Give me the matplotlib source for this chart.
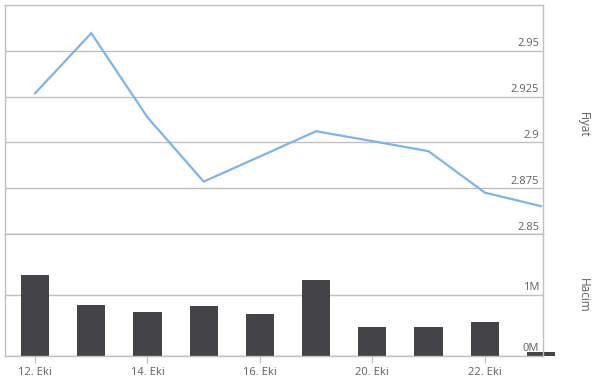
import matplotlib.pyplot as plt
import matplotlib.transforms as mtransforms

plt.rcParams['font.family'] = ['Open Sans', 'DejaVu Sans']

# data
dates = ["12. Eki", "13. Eki", "14. Eki", "15. Eki", "16. Eki",
         "19. Eki", "20. Eki", "21. Eki", "22. Eki", "23. Eki"]
price = [2.9268, 2.9596, 2.9137, 2.8786, 2.8923, 2.9061, 2.9007, 2.8952, 2.8726, 2.8652]
volume = [1.33, 0.836, 0.72, 0.815, 0.69, 1.245, 0.47, 0.47, 0.557, 0.07]  # millions
price_ticks = [2.85, 2.875, 2.9, 2.925, 2.95]
price_tick_labels = ["2.85", "2.875", "2.9", "2.925", "2.95"]
vol_ticks = [0, 1]
vol_tick_labels = ["0M", "1M"]
xtick_idx = [0, 2, 4, 6, 8]

grid_c = "#c0c0c0"
text_c = "#606060"

fig = plt.figure(figsize=(6, 3.84), dpi=100)
ax1 = fig.add_axes([5 / 600, 1 - 234 / 384, 538 / 600, 229 / 384])
ax2 = fig.add_axes([5 / 600, 1 - 356 / 384, 538 / 600, 122 / 384])

x = list(range(len(dates)))
xlim = (-0.534, 9.036)

# price pane
ax1.plot(x, price, color="#7cb5ec", lw=1.6, solid_joinstyle="miter")
ax1.set_xlim(*xlim)
ax1.set_ylim(2.85, 2.975)
for v in price_ticks:
    ax1.axhline(v, color=grid_c, lw=1, zorder=0)
tr1 = mtransforms.blended_transform_factory(ax1.transAxes, ax1.transData)
for v, lab in zip(price_ticks, price_tick_labels):
    ax1.text(0.993, v + 0.0008, lab, transform=tr1, ha="right", va="bottom",
             fontsize=8, color=text_c)
ax1.set_xticks([])
ax1.set_yticks([])
for s in ax1.spines.values():
    s.set_color(grid_c)
    s.set_linewidth(1)
fig.text(583 / 600, 1 - 125 / 384, "Fiyat", rotation=270, ha="center", va="center",
         fontsize=8.5, color=text_c)

# volume pane
ax2.bar(x, volume, width=0.5, color="#434348", zorder=2, clip_on=False)
ax2.set_xlim(*xlim)
ax2.set_ylim(0, 2.0)
for v in vol_ticks:
    ax2.axhline(v, color=grid_c, lw=1, zorder=0)
tr2 = mtransforms.blended_transform_factory(ax2.transAxes, ax2.transData)
for v, lab in zip(vol_ticks, vol_tick_labels):
    ax2.text(0.993, v + 0.03, lab, transform=tr2, ha="right", va="bottom",
             fontsize=8, color=text_c, zorder=3)
ax2.set_yticks([])
ax2.set_xticks(xtick_idx)
ax2.set_xticklabels([dates[i] for i in xtick_idx], fontsize=8, color=text_c)
ax2.tick_params(axis="x", length=5, color=grid_c, pad=3)
for s in ax2.spines.values():
    s.set_color(grid_c)
    s.set_linewidth(1)
fig.text(583 / 600, 1 - 295 / 384, "Hacim", rotation=270, ha="center", va="center",
         fontsize=8.5, color=text_c)

fig.savefig("out.png", dpi=100)
